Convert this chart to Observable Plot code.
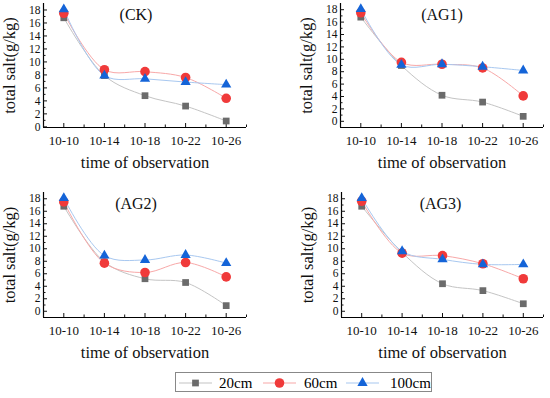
<!DOCTYPE html>
<html>
<head>
<meta charset="utf-8">
<script src="https://cdn.jsdelivr.net/npm/d3@7"></script>
<script src="https://cdn.jsdelivr.net/npm/@observablehq/plot@0.6"></script>
<style>
  html, body { margin: 0; padding: 0; background: #fff; }
  #root { position: relative; width: 550px; height: 398px; overflow: hidden; font-family: "Liberation Serif", "Times New Roman", serif; }
  .panel { position: absolute; }
  #legend { position: absolute; left: 175px; top: 372px; width: 257px; height: 20px; border: 1px solid #888; box-sizing: border-box; }
</style>
</head>
<body>
<div id="root"></div>
<script>
// ---- data ----
const dates = ["10-10", "10-14", "10-18", "10-22", "10-26"];
const depths = ["20cm", "60cm", "100cm"];
const panelNames = ["(CK)", "(AG1)", "(AG2)", "(AG3)"];

const ck_20  = [16.8, 7.9, 4.8, 3.2, 0.9];
const ck_60  = [17.5, 8.8, 8.5, 7.6, 4.4];
const ck_100 = [18.1, 7.9, 7.4, 6.9, 6.5];

const ag1_20  = [16.8, 9.0, 4.2, 3.1, 0.8];
const ag1_60  = [17.5, 9.5, 9.2, 8.6, 4.1];
const ag1_100 = [18.1, 9.1, 9.2, 8.8, 8.2];

const ag2_20  = [16.8, 7.9, 5.2, 4.6, 0.9];
const ag2_60  = [17.5, 7.7, 6.2, 7.8, 5.5];
const ag2_100 = [18.1, 8.9, 8.2, 9.0, 7.7];

const ag3_20  = [16.8, 9.4, 4.4, 3.3, 1.2];
const ag3_60  = [17.6, 9.3, 8.9, 7.6, 5.2];
const ag3_100 = [18.1, 9.6, 8.3, 7.5, 7.5];

const yTicks = [0, 2, 4, 6, 8, 10, 12, 14, 16, 18];
const yMinor = [1, 3, 5, 7, 9, 11, 13, 15, 17];

// ---- styles ----
const symbols = ["square", "circle", "triangle"];
const fills = ["#6b6b6b", "#f03a3a", "#1464d8"];
const lineColors = ["#c4c4c4", "#f8a8a8", "#a8c8f0"];
const sizes = [3.8, 4.8, 3.8];

const panelSeries = [
  [ck_20, ck_60, ck_100],
  [ag1_20, ag1_60, ag1_100],
  [ag2_20, ag2_60, ag2_100],
  [ag3_20, ag3_60, ag3_100]
];

const layout = [
  {left: 0,   top: 0,   h: 175, ml: 43, mr: 29, mt: 3,  mb: 48, y: [-0.1, 19.0], tdx: -9},
  {left: 275, top: 0,   h: 175, ml: 65, mr: 7,  mt: 3,  mb: 48, y: [-1, 19], tdx: 0},
  {left: 0,   top: 175, h: 190, ml: 43, mr: 29, mt: 17, mb: 48, y: [-1, 19], tdx: -9},
  {left: 275, top: 175, h: 190, ml: 66, mr: 7,  mt: 17, mb: 48, y: [-1, 19], tdx: -2}
];

const root = document.getElementById("root");

panelSeries.forEach((series, p) => {
  const L = layout[p];
  const rows = [];
  series.forEach((vals, s) => vals.forEach((v, i) => rows.push({depth: depths[s], s, i, date: dates[i], v})));
  const marks = [];
  // lines
  series.forEach((vals, s) => {
    marks.push(Plot.line(rows.filter(r => r.s === s), {x: "i", y: "v", stroke: lineColors[s], strokeWidth: 1, curve: "catmull-rom"}));
  });
  // axis lines
  marks.push(Plot.ruleY([L.y[0]], {stroke: "#000", strokeWidth: 1.2}));
  marks.push(Plot.ruleX([-0.5], {stroke: "#000", strokeWidth: 1.2}));
  // x ticks inward
  marks.push(Plot.axisX({ticks: [0, 1, 2, 3, 4], tickSize: 4, dy: -4, tickFormat: () => "", label: null}));
  marks.push(Plot.axisX({ticks: [-0.5, 0.5, 1.5, 2.5, 3.5, 4.5], tickSize: 2.5, dy: -2.5, tickFormat: () => "", label: null}));
  marks.push(Plot.axisX({ticks: [0, 1, 2, 3, 4], tickSize: 0, tickPadding: 8, tickFormat: d => dates[d], fontSize: 13,
    label: "time of observation", labelAnchor: "center", labelOffset: 40, labelArrow: "none"}));
  // y ticks inward
  marks.push(Plot.axisY({ticks: yTicks, tickSize: 4, dx: 4, tickFormat: () => "", label: null}));
  marks.push(Plot.axisY({ticks: yMinor, tickSize: 2.5, dx: 2.5, tickFormat: () => "", label: null}));
  marks.push(Plot.axisY({ticks: yTicks, tickSize: 0, tickPadding: 3, tickFormat: d => String(d), fontSize: 11.5,
    label: "total salt(g/kg)", labelAnchor: "center", labelOffset: 40, labelArrow: "none"}));
  // points
  series.forEach((vals, s) => {
    marks.push(Plot.dot(rows.filter(r => r.s === s), {x: "i", y: "v", symbol: () => symbols[s], fill: fills[s], r: sizes[s], stroke: "none"}));
  });
  // panel title
  marks.push(Plot.text([panelNames[p]], {frameAnchor: "top", dy: 5, dx: L.tdx, text: d => d, fontSize: 16, lineAnchor: "top"}));

  const chart = Plot.plot({
    width: 275,
    height: L.h,
    marginLeft: L.ml,
    marginRight: L.mr,
    marginTop: L.mt,
    marginBottom: L.mb,
    style: {fontFamily: "Liberation Serif, Times New Roman, serif", fontSize: "13px", color: "#111", background: "transparent", overflow: "visible"},
    x: {type: "linear", domain: [-0.5, 4.5]},
    y: {domain: L.y},
    symbol: {type: "identity"},
    marks
  });
  chart.querySelectorAll("text").forEach(t => { if (!t.textContent.trim()) t.remove(); });
  chart.classList.add("panel");
  chart.style.left = L.left + "px";
  chart.style.top = L.top + "px";
  root.appendChild(chart);
});

root.querySelectorAll("g[aria-label='y-axis label'] text, g[aria-label='x-axis label'] text").forEach(t => t.setAttribute("font-size", "16.5"));

// ---- legend ----
const legend = document.createElement("div");
legend.id = "legend";
const ns = "http://www.w3.org/2000/svg";
const lsvg = document.createElementNS(ns, "svg");
lsvg.setAttribute("width", 257);
lsvg.setAttribute("height", 20);
const itemX = [3, 87, 170];
const textX = [43, 128, 214];
depths.forEach((d, s) => {
  const ln = document.createElementNS(ns, "line");
  ln.setAttribute("x1", itemX[s]); ln.setAttribute("x2", itemX[s] + 33);
  ln.setAttribute("y1", 10); ln.setAttribute("y2", 10);
  ln.setAttribute("stroke", lineColors[s]); ln.setAttribute("stroke-width", 1.2);
  lsvg.appendChild(ln);
  const sym = document.createElementNS(ns, "path");
  const symType = [d3.symbolSquare, d3.symbolCircle, d3.symbolTriangle][s];
  sym.setAttribute("d", d3.symbol(symType, Math.PI * sizes[s] * sizes[s])());
  sym.setAttribute("transform", `translate(${itemX[s] + 16.5},10)`);
  sym.setAttribute("fill", fills[s]);
  lsvg.appendChild(sym);
  const tx = document.createElementNS(ns, "text");
  tx.setAttribute("x", textX[s]); tx.setAttribute("y", 15);
  tx.setAttribute("font-size", 15);
  tx.setAttribute("font-family", "Liberation Serif, serif");
  tx.textContent = d;
  lsvg.appendChild(tx);
});
legend.appendChild(lsvg);
root.appendChild(legend);
</script>
</body>
</html>
